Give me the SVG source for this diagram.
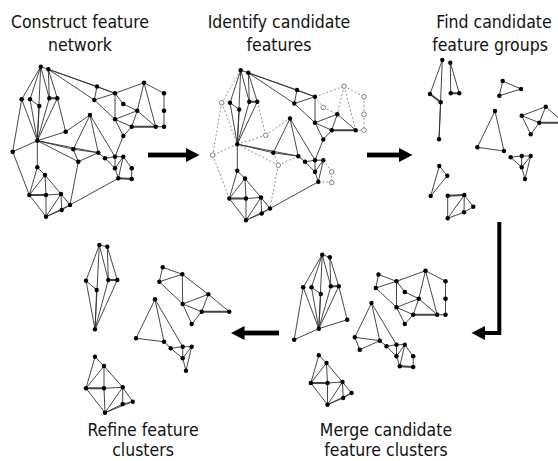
<svg xmlns="http://www.w3.org/2000/svg" xmlns:xlink="http://www.w3.org/1999/xlink" width="558" height="461" viewBox="0 0 558 461">
  <style>
    .lbl { font-family: "DejaVu Sans Condensed", "DejaVu Sans", sans-serif; font-size: 17.5px; fill: #111; text-anchor: middle; }
    .edge { fill: none; stroke: #333; stroke-width: 0.9; }
    .thick { fill: none; stroke: #444; stroke-width: 2; }
    .dot { fill: none; stroke: #888; stroke-width: 0.9; stroke-dasharray: 2 2; }
    .node { fill: #000; }
    .hollow { fill: #fff; stroke: #666; stroke-width: 0.8; }
    .arrow { fill: #000; stroke: none; }
    .arrowline { fill: none; stroke: #000; stroke-width: 4; }
  </style>
  <defs>
    <!-- base feature network: edges among the core features, inside each cluster -->
    <path id="eCore" d="M40.7 66.7L48.3 69.3 M40.7 66.7L30 99.3 M40.7 66.7L37.3 140.7 M40.7 66.7L49.3 98.3 M48.3 69.3L49.3 98.3 M48.3 69.3L57.3 98.3 M30 99.3L39.3 106 M39.3 106L37.3 140.7 M30 99.3L37.3 140.7 M49.3 98.3L37.3 140.7 M57.3 98.3L37.3 140.7
      M97 86.5L94.3 100 M97 86.5L115 93.3 M94.3 100L115 93.3 M94.3 100L115 119.3 M115 93.3L115 119.3 M115 119.3L137.3 110.7 M115 119.3L131.7 126.7 M137.3 110.7L131.7 126.7 M137.3 110.7L155.7 126.7 M115 119.3L123.3 136 M131.7 126.7L123.3 136
      M90 115L73.3 149.3 M90 115L98.3 152.7 M90 115L115 156.7 M73.3 149.3L98.3 152.7 M98.3 152.7L105 158.3 M105 158.3L115 156.7 M115 156.7L123.3 156.7 M105 158.3L115 168.3 M115 156.7L115 168.3 M123.3 156.7L115 168.3 M123.3 156.7L118.3 178.3 M115 168.3L118.3 178.3
      M37.3 167.3L45 175 M37.3 167.3L29.3 195 M45 175L29.3 195 M45 175L46 195 M45 175L61 194 M46 195L61 194 M29.3 195L46 216.7 M46 195L46 216.7 M61 194L46 216.7 M61 194L61.7 210 M61 194L70 205 M61.7 210L70 205 M61.7 210L46 216.7 M70 205L46 216.7"/>
    <path id="eCoreThick" d="M49.3 98.3L57.3 98.3 M29.3 195L46 195 M131.7 126.7L155.7 126.7"/>
    <!-- edges touching the peripheral features, inside each cluster -->
    <path id="ePeri" d="M40.7 66.7L21.7 99.3 M21.7 99.3L37.3 140.7 M21.7 99.3L12.7 151.7 M57.3 98.3L65.7 131.7 M65.7 131.7L37.3 140.7 M37.3 140.7L12.7 151.7
      M115 93.3L144 82.7 M115 93.3L123.3 104 M144 82.7L164 93.3 M144 82.7L137.3 110.7 M144 82.7L155.7 126.7 M164 93.3L164 110.7 M164 110.7L164 126.7 M155.7 126.7L164 126.7 M123.3 104L137.3 110.7
      M73.3 149.3L78.3 161.7 M98.3 152.7L78.3 161.7 M123.3 156.7L131.7 168.3 M131.7 168.3L131.7 179"/>
    <path id="ePeriThick" d="M118.3 178.3L131.7 179"/>
    <!-- links between clusters -->
    <path id="eLink" d="M48.3 69.3L97 86.5 M48.3 69.3L115 93.3 M48.3 69.3L94.3 100 M37.3 140.7L73.3 149.3 M37.3 140.7L98.3 152.7 M123.3 136L115 156.7 M70 205L118.3 178.3 M37.3 140.7L37.3 167.3"/>
    <path id="eLinkPeri" d="M65.7 131.7L90 115 M37.3 140.7L78.3 161.7 M78.3 161.7L70 205 M12.7 151.7L29.3 195"/>
    <g id="nCore">
      <circle cx="40.7" cy="66.7" r="2.2"/><circle cx="48.3" cy="69.3" r="2.2"/><circle cx="30" cy="99.3" r="2.2"/><circle cx="39.3" cy="106" r="2.2"/><circle cx="49.3" cy="98.3" r="2.2"/><circle cx="57.3" cy="98.3" r="2.2"/><circle cx="37.3" cy="140.7" r="2.2"/>
      <circle cx="97" cy="86.5" r="2.2"/><circle cx="94.3" cy="100" r="2.2"/><circle cx="115" cy="93.3" r="2.2"/><circle cx="137.3" cy="110.7" r="2.2"/><circle cx="115" cy="119.3" r="2.2"/><circle cx="131.7" cy="126.7" r="2.2"/><circle cx="155.7" cy="126.7" r="2.2"/><circle cx="123.3" cy="136" r="2.2"/>
      <circle cx="90" cy="115" r="2.2"/><circle cx="73.3" cy="149.3" r="2.2"/><circle cx="98.3" cy="152.7" r="2.2"/><circle cx="105" cy="158.3" r="2.2"/><circle cx="115" cy="156.7" r="2.2"/><circle cx="123.3" cy="156.7" r="2.2"/><circle cx="115" cy="168.3" r="2.2"/><circle cx="118.3" cy="178.3" r="2.2"/>
      <circle cx="37.3" cy="167.3" r="2.2"/><circle cx="45" cy="175" r="2.2"/><circle cx="29.3" cy="195" r="2.2"/><circle cx="46" cy="195" r="2.2"/><circle cx="61" cy="194" r="2.2"/><circle cx="61.7" cy="210" r="2.2"/><circle cx="70" cy="205" r="2.2"/><circle cx="46" cy="216.7" r="2.2"/>
    </g>
    <g id="nPeri">
      <circle cx="21.7" cy="99.3" r="2.3"/><circle cx="12.7" cy="151.7" r="2.3"/><circle cx="65.7" cy="131.7" r="2.3"/><circle cx="78.3" cy="161.7" r="2.3"/>
      <circle cx="144" cy="82.7" r="2.3"/><circle cx="123.3" cy="104" r="2.3"/><circle cx="164" cy="93.3" r="2.3"/><circle cx="164" cy="110.7" r="2.3"/><circle cx="164" cy="126.7" r="2.3"/>
      <circle cx="131.7" cy="168.3" r="2.3"/><circle cx="131.7" cy="179" r="2.3"/>
    </g>
  </defs>

  <!-- step 1: full feature network -->
  <g id="construct-network">
    <text class="lbl" x="80" y="28">Construct feature</text>
    <text class="lbl" x="80" y="51">network</text>
    <use xlink:href="#eCore" class="edge"/>
    <use xlink:href="#ePeri" class="edge"/>
    <use xlink:href="#eLink" class="edge"/>
    <use xlink:href="#eLinkPeri" class="edge"/>
    <use xlink:href="#eCoreThick" class="thick"/>
    <use xlink:href="#ePeriThick" class="thick"/>
    <use xlink:href="#nCore" class="node"/>
    <use xlink:href="#nPeri" class="node"/>
  </g>

  <!-- step 2: peripheral features marked hollow, their links dotted -->
  <g id="identify-candidates">
    <text class="lbl" x="279" y="28">Identify candidate</text>
    <text class="lbl" x="279" y="51">features</text>
    <g transform="translate(200 3.5)">
      <use xlink:href="#ePeri" class="dot"/>
      <use xlink:href="#ePeriThick" class="dot"/>
      <use xlink:href="#eLinkPeri" class="dot"/>
      <use xlink:href="#eCore" class="edge"/>
      <use xlink:href="#eLink" class="edge"/>
      <use xlink:href="#eCoreThick" class="thick"/>
      <use xlink:href="#nCore" class="node"/>
      <use xlink:href="#nPeri" class="hollow"/>
    </g>
  </g>

  <!-- step 3: candidate feature groups -->
  <g id="candidate-groups">
    <text class="lbl" x="494" y="28">Find candidate</text>
    <text class="lbl" x="490" y="51">feature groups</text>
    <path class="edge" d="M442.3 60L430 94 M442.3 60L439 139.3 M440.7 102.3L439 139.3
      M450.3 62.7L450.7 93.3 M450.3 62.7L459.3 93.3
      M502.7 81L499.3 95.7 M502.7 81L521 89 M499.3 95.7L521 89
      M495 111L477.3 147.3 M495 111L504 151 M477.3 147.3L504 151
      M521.7 115.7L545.7 106.7 M521.7 115.7L539.3 122.7 M521.7 115.7L530.7 134.3 M545.7 106.7L539.3 122.7 M539.3 122.7L530.7 134.3 M545.7 106.7L564 122.7
      M510.7 157.3L521.7 156 M521.7 156L530.7 156 M510.7 157.3L521.7 167.3 M521.7 156L521.7 167.3 M530.7 156L521.7 167.3 M530.7 156L525 179 M521.7 167.3L525 179
      M439.3 166L447.3 175.7 M447.3 175.7L430.7 196 M439.3 166L430.7 196
      M447.7 195.7L447.7 218.3 M464.3 195L447.7 218.3 M464.3 195L473.3 206.7 M464.3 195L464 212.3 M473.3 206.7L464 212.3 M464 212.3L447.7 218.3"/>
    <path class="thick" d="M430 94L440.7 102.3 M450.7 93.3L459.3 93.3 M539.3 122.7L564 122.7 M447.7 195.7L464.3 195"/>
    <g class="node">
      <circle cx="442.3" cy="60" r="2.2"/><circle cx="430" cy="94" r="2.2"/><circle cx="440.7" cy="102.3" r="2.2"/><circle cx="439" cy="139.3" r="2.2"/>
      <circle cx="450.3" cy="62.7" r="2.2"/><circle cx="450.7" cy="93.3" r="2.2"/><circle cx="459.3" cy="93.3" r="2.2"/>
      <circle cx="502.7" cy="81" r="2.2"/><circle cx="499.3" cy="95.7" r="2.2"/><circle cx="521" cy="89" r="2.2"/>
      <circle cx="495" cy="111" r="2.2"/><circle cx="477.3" cy="147.3" r="2.2"/><circle cx="504" cy="151" r="2.2"/>
      <circle cx="521.7" cy="115.7" r="2.2"/><circle cx="545.7" cy="106.7" r="2.2"/><circle cx="539.3" cy="122.7" r="2.2"/><circle cx="530.7" cy="134.3" r="2.2"/>
      <circle cx="510.7" cy="157.3" r="2.2"/><circle cx="521.7" cy="156" r="2.2"/><circle cx="530.7" cy="156" r="2.2"/><circle cx="521.7" cy="167.3" r="2.2"/><circle cx="525" cy="179" r="2.2"/>
      <circle cx="439.3" cy="166" r="2.2"/><circle cx="447.3" cy="175.7" r="2.2"/><circle cx="430.7" cy="196" r="2.2"/>
      <circle cx="447.7" cy="195.7" r="2.2"/><circle cx="464.3" cy="195" r="2.2"/><circle cx="473.3" cy="206.7" r="2.2"/><circle cx="464" cy="212.3" r="2.2"/><circle cx="447.7" cy="218.3" r="2.2"/>
    </g>
  </g>

  <!-- step 4: merged clusters (cluster links dropped) -->
  <g id="merge-clusters">
    <text class="lbl" x="386" y="436">Merge candidate</text>
    <text class="lbl" x="386" y="456">feature clusters</text>
    <g transform="translate(281.5 188)">
      <use xlink:href="#eCore" class="edge"/>
      <use xlink:href="#ePeri" class="edge"/>
      <use xlink:href="#eCoreThick" class="thick"/>
      <use xlink:href="#ePeriThick" class="thick"/>
      <use xlink:href="#nCore" class="node"/>
      <use xlink:href="#nPeri" class="node"/>
    </g>
  </g>

  <!-- step 5: refined clusters -->
  <g id="refine-clusters">
    <text class="lbl" x="143" y="436">Refine feature</text>
    <text class="lbl" x="143" y="456">clusters</text>
    <path class="edge" d="M99.3 245L107.3 246.7 M99.3 245L86 280.7 M99.3 245L95 329.3 M99.3 245L108.3 280 M107.3 246.7L108.3 280 M107.3 246.7L117.3 280 M86 280.7L96.7 290 M86 280.7L95 329.3 M96.7 290L95 329.3 M108.3 280L95 329.3 M117.3 280L95 329.3
      M162.7 267.3L159.3 281.7 M162.7 267.3L182.3 274.3 M159.3 281.7L182.3 274.3 M159.3 281.7L182.7 304 M182.3 274.3L182.7 304 M182.3 274.3L208.3 294.3 M182.7 304L208.3 294.3 M182.7 304L201.7 311.7 M208.3 294.3L201.7 311.7 M208.3 294.3L229.3 311.7 M182.7 304L191.7 324 M201.7 311.7L191.7 324
      M155 299.3L136 338.3 M155 299.3L164 341.7 M155 299.3L182.7 346.7 M136 338.3L164 341.7 M164 341.7L170.7 348.3 M170.7 348.3L182.7 346.7 M182.7 346.7L191.7 346.7 M170.7 348.3L182.7 358.3 M182.7 346.7L182.7 358.3 M191.7 346.7L182.7 358.3 M191.7 346.7L186 370.7 M182.7 358.3L186 370.7
      M95 356.7L104 366 M95 356.7L86 388.3 M104 366L86 388.3 M104 366L104 388.3 M104 366L122.7 387.3 M104 388.3L122.7 387.3 M86 388.3L105 412.7 M104 388.3L105 412.7 M122.7 387.3L105 412.7 M122.7 387.3L122.7 404 M122.7 387.3L132.7 401.7 M122.7 404L132.7 401.7 M122.7 404L105 412.7 M132.7 401.7L105 412.7"/>
    <path class="thick" d="M108.3 280L117.3 280 M201.7 311.7L229.3 311.7 M86 388.3L104 388.3"/>
    <g class="node">
      <circle cx="99.3" cy="245" r="2.2"/><circle cx="107.3" cy="246.7" r="2.2"/><circle cx="86" cy="280.7" r="2.2"/><circle cx="96.7" cy="290" r="2.2"/><circle cx="108.3" cy="280" r="2.2"/><circle cx="117.3" cy="280" r="2.2"/><circle cx="95" cy="329.3" r="2.2"/>
      <circle cx="162.7" cy="267.3" r="2.2"/><circle cx="159.3" cy="281.7" r="2.2"/><circle cx="182.3" cy="274.3" r="2.2"/><circle cx="208.3" cy="294.3" r="2.2"/><circle cx="182.7" cy="304" r="2.2"/><circle cx="201.7" cy="311.7" r="2.2"/><circle cx="229.3" cy="311.7" r="2.2"/><circle cx="191.7" cy="324" r="2.2"/>
      <circle cx="155" cy="299.3" r="2.2"/><circle cx="136" cy="338.3" r="2.2"/><circle cx="164" cy="341.7" r="2.2"/><circle cx="170.7" cy="348.3" r="2.2"/><circle cx="182.7" cy="346.7" r="2.2"/><circle cx="191.7" cy="346.7" r="2.2"/><circle cx="182.7" cy="358.3" r="2.2"/><circle cx="186" cy="370.7" r="2.2"/>
      <circle cx="95" cy="356.7" r="2.2"/><circle cx="104" cy="366" r="2.2"/><circle cx="86" cy="388.3" r="2.2"/><circle cx="104" cy="388.3" r="2.2"/><circle cx="122.7" cy="387.3" r="2.2"/><circle cx="122.7" cy="404" r="2.2"/><circle cx="132.7" cy="401.7" r="2.2"/><circle cx="105" cy="412.7" r="2.2"/>
    </g>
  </g>

  <!-- process arrows between the steps -->
  <g id="connectors">
    <rect class="arrow" x="148" y="152.6" width="39" height="4.8"/>
    <polygon class="arrow" points="186,148 199.5,155 186,162"/>
    <rect class="arrow" x="367" y="152.6" width="33" height="4.8"/>
    <polygon class="arrow" points="399,148 412.5,155 399,162"/>
    <polyline class="arrowline" points="499.3,222 499.3,333 484,333"/>
    <polygon class="arrow" points="485,326 471.5,333 485,340"/>
    <rect class="arrow" x="243" y="330.6" width="36" height="4.8"/>
    <polygon class="arrow" points="244.5,326 231,333 244.5,340"/>
  </g>
</svg>
